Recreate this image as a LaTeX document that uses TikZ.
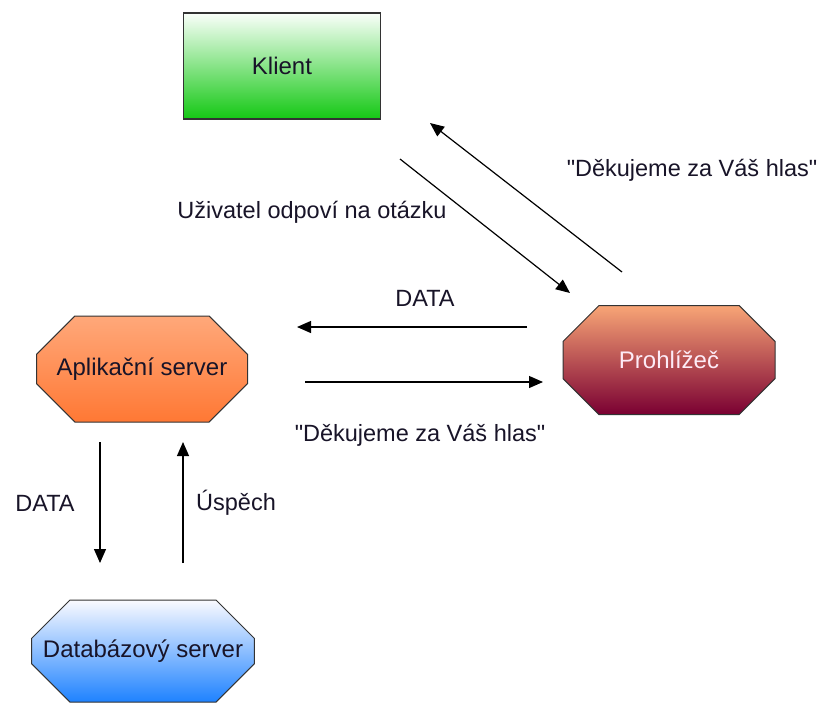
\documentclass[tikz,border=0pt]{standalone}
\usepackage{fontspec}
\setmainfont{Liberation Sans}
\usetikzlibrary{shapes.misc,arrows.meta}
\definecolor{klienttop}{RGB}{250,255,250}
\definecolor{klientbot}{RGB}{20,200,20}
\definecolor{apptop}{RGB}{255,168,122}
\definecolor{appbot}{RGB}{255,120,52}
\definecolor{prohltop}{RGB}{248,165,118}
\definecolor{prohlbot}{RGB}{122,0,50}
\definecolor{dbtop}{RGB}{250,250,255}
\definecolor{dbbot}{RGB}{30,130,255}
\definecolor{labeltext}{RGB}{24,20,40}
\newcommand{\qmark}{\XeTeXglyph\XeTeXcharglyph"22\relax}
\newcommand{\qt}[1]{\qmark#1\qmark}
\tikzset{
	box/.style = {draw = black!80, line width = 1.4pt, inner sep = 0pt,
		font = \fontsize{24}{28}\selectfont, text = labeltext},
	server/.style = {box, chamfered rectangle, line width = 1pt,
		chamfered rectangle xsep = 34pt, chamfered rectangle ysep = 27pt},
	msg/.style = {font = \fontsize{23.5}{27}\selectfont, text = labeltext},
	flow/.style = {line width = 1.2pt, -{Triangle[length = 14pt, width = 12pt]}}
}
\begin{document}
\begin{tikzpicture}[x = 1pt, y = -1pt]
		\useasboundingbox (0, 0) rectangle (826, 702);
		% machines
		\node[box, minimum width = 197pt, minimum height = 106pt,
			top color = klienttop, bottom color = klientbot] (klient) at (282, 66) {Klient};
		\node[server, minimum width = 211pt, minimum height = 106pt,
			top color = apptop, bottom color = appbot] (app) at (142, 369) {Aplikační server};
		\node[server, minimum width = 212pt, minimum height = 109pt, text = white!92!magenta,
			top color = prohltop, bottom color = prohlbot] (prohl) at (669, 360) {Prohlížeč};
		\node[server, minimum width = 213pt, minimum height = 102pt,
			top color = dbtop, bottom color = dbbot] (db) at (143, 651) {Databázový server};
		% arrow ends
		\coordinate (ka) at (400, 159);
		\coordinate (kb) at (570, 293);
		\coordinate (pa) at (622, 272);
		\coordinate (pb) at (430, 123);
		\coordinate (da) at (527, 327);
		\coordinate (db2) at (297, 327);
		\coordinate (ha) at (305, 382);
		\coordinate (hb) at (543, 382);
		\coordinate (sa) at (100, 442);
		\coordinate (sb) at (100, 563);
		\coordinate (ua) at (183, 563);
		\coordinate (ub) at (183, 442);
		\draw[flow] (ka)--(kb);
		\draw[flow] (pa)--(pb);
		\draw[flow] (da)--(db2);
		\draw[flow] (ha)--(hb);
		\draw[flow] (sa)--(sb);
		\draw[flow] (ua)--(ub);
		% messages
		\node[msg] (odpoved) at (312, 212) {Uživatel odpoví na otázku};
		\node[msg] (dik1) at (692, 170) {\qt{Děkujeme za Váš hlas}};
		\node[msg] (data1) at (425, 298) {DATA};
		\node[msg] (dik2) at (420, 435) {\qt{Děkujeme za Váš hlas}};
		\node[msg] (data2) at (45, 503) {DATA};
		\node[msg] (uspech) at (236, 503) {Úspěch};
\end{tikzpicture}
\end{document}
